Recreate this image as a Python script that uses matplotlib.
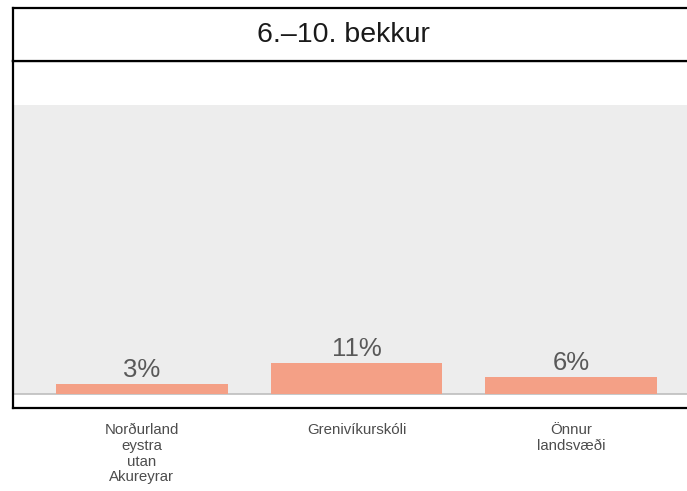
import matplotlib.pyplot as plt

plt.rcParams['font.family'] = ['Liberation Sans', 'DejaVu Sans']

title = "6.–10. bekkur"
categories = ["Norðurland\neystra\nutan\nAkureyrar", "Grenivíkurskóli", "Önnur\nlandsvæði"]
values = [3.4, 10.6, 5.8]
labels = ["3%", "11%", "6%"]

W, H = 687, 491
fig = plt.figure(figsize=(W / 100, H / 100), dpi=100)

# panel: x from 13px to 700px (cut at the right edge), y from 61px to 408px
left, right = 13, 700
ax = fig.add_axes([left / W, (H - 408) / H, (right - left) / W, (408 - 61) / H])
ax.set_xlim(-0.6, 2.6)
ax.set_ylim(-4.84, 115.2)
ax.axhspan(0, 100, color="#ededed", lw=0, zorder=0)
ax.axhline(0, color="#bdbdbd", lw=1.2, zorder=1)

x = range(len(categories))
ax.bar(x, values, width=0.8, color="#f4a086", zorder=2)
for xi, v, lab in zip(x, values, labels):
    ax.annotate(lab, (xi, v), xytext=(0, 1.5), textcoords="offset points",
                ha="center", va="bottom", fontsize=18.5, color="#595959")

ax.set_xticks(list(x))
ax.set_xticklabels(categories, fontsize=10.8, color="#4d4d4d", linespacing=1.15)
ax.tick_params(axis="x", length=0, pad=11)
ax.set_yticks([])
for s in ax.spines.values():
    s.set_linewidth(1.6)
    s.set_color("black")

# strip with title
sax = fig.add_axes([left / W, (H - 61) / H, (right - left) / W, (61 - 8) / H])
sax.set_xticks([])
sax.set_yticks([])
for s in sax.spines.values():
    s.set_linewidth(1.6)
    s.set_color("black")
fig.text(343.5 / W, (H - 34.5) / H, title, ha="center", va="center", fontsize=20.5, color="#1a1a1a")

fig.savefig("out.png", dpi=100)
